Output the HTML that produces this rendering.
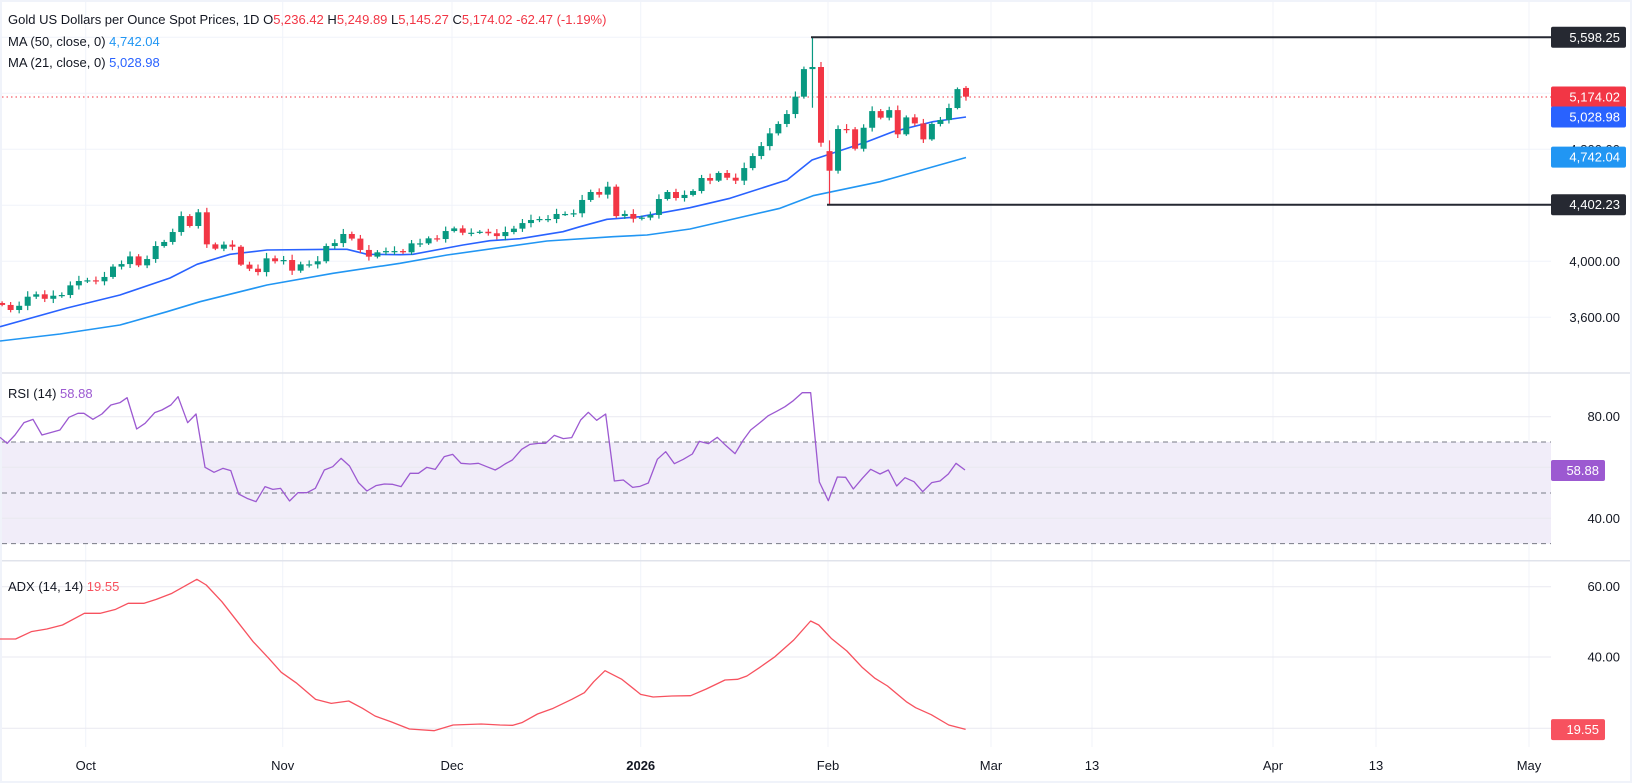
<!DOCTYPE html>
<html><head><meta charset="utf-8"><style>
html,body{margin:0;padding:0;background:#fff;}
svg{display:block;font-family:"Liberation Sans",sans-serif;}
</style></head><body>
<svg id="c" width="1632" height="783" viewBox="0 0 1632 783" xmlns="http://www.w3.org/2000/svg">
<rect x="0" y="0" width="1632" height="783" fill="#F0F3FA"/>
<rect x="2" y="2" width="1628" height="779" fill="#fff"/>
<g id="grid"></g>
<rect x="2" y="442" width="1549" height="101.6" fill="#F1EDF9"/>
<g id="grid2"></g>
<line x1="2" y1="442" x2="1551" y2="442" stroke="#787B86" stroke-dasharray="5,4" stroke-width="1"/>
<line x1="2" y1="493" x2="1551" y2="493" stroke="#787B86" stroke-dasharray="5,4" stroke-width="1"/>
<line x1="2" y1="543.6" x2="1551" y2="543.6" stroke="#787B86" stroke-dasharray="5,4" stroke-width="1"/>
<line x1="2" y1="373" x2="1630" y2="373" stroke="#E0E3EB" stroke-width="1.5"/>
<line x1="2" y1="560.7" x2="1630" y2="560.7" stroke="#E0E3EB" stroke-width="1.5"/>
<line x1="2" y1="97" x2="1551" y2="97" stroke="#F23645" stroke-dasharray="1.5,3" stroke-width="1"/>
<g id="ma"></g>
<g id="candles"></g>
<line x1="811" y1="37.3" x2="1551" y2="37.3" stroke="#262932" stroke-width="2"/>
<line x1="827" y1="204.7" x2="1551" y2="204.7" stroke="#262932" stroke-width="2"/>
<g id="ind"></g>
<g id="labels" font-size="13"></g>
<text x="8" y="24" font-size="13" fill="#131722">Gold US Dollars per Ounce Spot Prices, 1D  <tspan fill="#131722">O</tspan><tspan fill="#F23645">5,236.42</tspan>  <tspan fill="#131722">H</tspan><tspan fill="#F23645">5,249.89</tspan>  <tspan fill="#131722">L</tspan><tspan fill="#F23645">5,145.27</tspan>  <tspan fill="#131722">C</tspan><tspan fill="#F23645">5,174.02  -62.47 (-1.19%)</tspan></text>
<text x="8" y="46" font-size="13" fill="#131722">MA (50, close, 0)  <tspan fill="#2196F3">4,742.04</tspan></text>
<text x="8" y="67" font-size="13" fill="#131722">MA (21, close, 0)  <tspan fill="#2962FF">5,028.98</tspan></text>
<text x="8" y="398" font-size="13" fill="#131722">RSI (14)  <tspan fill="#9C59D1">58.88</tspan></text>
<text x="8" y="591" font-size="13" fill="#131722">ADX (14, 14)  <tspan fill="#F7525F">19.55</tspan></text>
</svg>
<script>
const NS="http://www.w3.org/2000/svg";
function el(p,t,a,txt){const e=document.createElementNS(NS,t);for(const k in a)e.setAttribute(k,a[k]);if(txt!==undefined)e.textContent=txt;document.getElementById(p).appendChild(e);return e;}
// grid
[37.3,93.3,149.3,205.3,261.3,317.3].forEach(y=>el("grid","line",{x1:2,y1:y,x2:1551,y2:y,stroke:"#F0F3FA","stroke-width":1}));
[416.7,467.3,518.3,586.7,657,728.3].forEach(y=>el("grid2","line",{x1:2,y1:y,x2:1551,y2:y,stroke:"#E9E9F0","stroke-width":1}));
[85.7,282.7,452,640.7,828,991,1092,1273,1376,1529].forEach(x=>el("grid","line",{x1:x,y1:2,x2:x,y2:747,stroke:"#F0F3FA","stroke-width":1}));
const P=p=>204.7-(p-4402.23)*0.13997;
const closes=[3686,3650,3680,3745,3762,3730,3752,3757,3826,3857,3862,3855,3886,3960,3978,4033,3969,4014,4107,4136,4207,4321,4250,4348,4119,4088,4117,4102,3974,3945,3921,4019,3998,4007,3931,3976,3976,3998,4107,4128,4193,4160,4079,4031,4062,4071,4071,
4062,4126,4126,4162,4157,4214,4233,4202,4202,4209,4198,4178,4207,4231,4271,4293,4300,4300,4336,4336,4341,4436,4493,4474,4531,4321,4336,4302,4310,4329,4443,4493,4450,
4472,4500,4593,4574,4629,4595,4574,4664,4750,4821,4912,4979,5050,5174,5371,5386,4845,4645,4943,4941,4802,4952,5071,5024,5078,4905,5026,4983,4869,4979,5007,5093,5228,5174];
const N=closes.length;
for(let i=0;i<N;i++){
  const x=966-(N-1-i)*8.53;
  let o=i>0?closes[i-1]:3700, c=closes[i];
  if(i==N-1)o=5236.42;
  let r=12+((i*37)%28);
  let h=Math.max(o,c)+r, l=Math.min(o,c)-r*0.8;
  if(i==N-1){h=5249.89;l=5145.27;}
  if(Math.abs(c-5386)<1){h=5598.25;l=5095;}
  if(Math.abs(c-4845)<1&&i>100){h=5440;l=4686;}
  if(Math.abs(c-4645)<1){l=4402.23;o=4785;}
  const col=c>=o?"#089981":"#F23645";
  el("candles","line",{x1:x,y1:P(h),x2:x,y2:P(l),stroke:col,"stroke-width":1.2});
  const yt=P(Math.max(o,c)), yb=P(Math.min(o,c));
  el("candles","rect",{x:x-3,y:yt,width:6,height:Math.max(1.2,yb-yt),fill:col});
}
function poly(g,pts,col,w){el(g,"polyline",{points:pts.map(p=>p[0]+","+p[1]).join(" "),fill:"none",stroke:col,"stroke-width":w,"stroke-linejoin":"round"});}
poly("ma",[[0,341],[60,334],[120,325],[167,311.7],[200,301.7],[267,285],[333,273.3],[400,263.3],[447,255],[547,241],[613,236.7],[647,235],[690,229],[780,208.3],[813,195.7],[880,181.7],[966,157.5]],"#2196F3",1.6);
poly("ma",[[0,326.7],[67,308],[120,295],[170,278],[197,264.3],[230,254.3],[267,250],[333,249.3],[347,249.3],[367,254.3],[400,254.7],[413,254.3],[463,245],[490,240.7],[520,238.7],[563,231.7],[580,226.7],[607,219.3],[640,216.7],[690,207.7],[730,198.3],[787,180],[812,160],[827,155],[867,141.7],[893,131.7],[933,121.7],[966,117]],"#2962FF",1.6);
// RSI
const r5=[[0,232],[12,250],[25,225],[40,188],[55,178],[70,225],[100,210],[115,172],[130,160],[140,160],[155,178],[170,162],[185,135],[200,128],[212,113],[228,207],[242,190],[258,158],[270,150],[285,135],[297,110],[313,188],[327,162],[342,322],[357,337],[372,325],[385,332],[398,402],[412,415],[427,425],[442,380],[455,388],[468,385],[483,423],[497,398],[512,398],[526,385],[541,330],[555,320],[569,295],[583,318],[598,368],[612,393],[627,377],[641,372],[655,373],[669,380],[684,340],[698,340],[712,322],[726,328],[741,290],[755,283],[769,310],[784,312],[798,310],[812,320],[826,330]];
const r7=[[0,262],[15,252],[37,240],[65,208],[90,193],[115,190],[137,190],[163,166],[190,176],[215,173],[242,120],[265,97],[290,121],[317,102],[343,303],[370,300],[398,322],[420,319],[445,309],[472,238],[497,215],[523,251],[550,238],[577,222],[598,184],[625,191],[652,172],[678,197],[705,221],[730,180],[752,150],[780,128],[805,107],[830,94],[855,80],[880,62],[907,38],[932,38],[958,306],[985,362],[1012,291],[1037,292],[1060,327],[1087,295],[1112,268],[1140,282],[1165,270],[1190,318],[1215,293],[1242,305],[1268,335],[1295,308],[1320,303],[1345,282],[1368,250],[1395,270]];
const rsi=r5.map(p=>[p[0]/1.668,360+p[1]/3]).concat(r7.map(p=>[500+p[0]/3,380+p[1]/3]));
poly("ind",rsi,"#9C59D1",1.3);
const a8=[[0,237],[25,237],[50,215],[75,207],[100,195],[135,160],[160,160],[185,148],[205,130],[230,130],[250,118],[275,100],[315,58],[330,75],[355,125],[380,185],[405,245],[430,295],[450,337],[475,370],[505,418],[530,430],[558,423],[580,445],[600,468],[625,485],[655,507],[695,512],[725,495],[770,492],[800,495],[820,496],[835,488],[860,462],[885,445],[915,418],[935,398],[950,365],[968,332],[995,358],[1025,403],[1045,411],[1075,408],[1105,407],[1130,387],[1160,360],[1180,358],[1195,348],[1215,323],[1240,290],[1270,240],[1297,183],[1310,195],[1330,235],[1355,273],[1380,323],[1400,355],[1420,378],[1450,425],[1465,443],[1490,464],[1518,495],[1545,508]];
poly("ind",a8.map(p=>[p[0]/1.6,560+p[1]/3]),"#F7525F",1.3);
// axis labels
function tl(y,t){el("labels","text",{x:1620,y:y+4.5,"text-anchor":"end",fill:"#131722"},t);}
function box(y,t,bg,w){el("labels","rect",{x:1551,y:y-10.5,width:w||75,height:21,rx:2,fill:bg});el("labels","text",{x:(w?1551+w-6:1620),y:y+4.5,"text-anchor":"end",fill:"#fff"},t);}
tl(149.3,"4,800.00");tl(261.3,"4,000.00");tl(317.3,"3,600.00");
tl(416.7,"80.00");tl(518.3,"40.00");tl(586.7,"60.00");tl(657,"40.00");
box(37.3,"5,598.25","#262932");box(97,"5,174.02","#F23645");box(117,"5,028.98","#2962FF");box(157.1,"4,742.04","#2196F3");box(204.7,"4,402.23","#262932");
box(470.5,"58.88","#9C59D1",54);box(729.6,"19.55","#F7525F",54);
[[85.7,"Oct"],[282.7,"Nov"],[452,"Dec"],[640.7,"2026"],[828,"Feb"],[991,"Mar"],[1092,"13"],[1273,"Apr"],[1376,"13"],[1529,"May"]].forEach(d=>{const t=el("labels","text",{x:d[0],y:770,"text-anchor":"middle",fill:"#131722"},d[1]);if(d[1]=="2026")t.setAttribute("font-weight","bold");});
</script>
</body></html>
